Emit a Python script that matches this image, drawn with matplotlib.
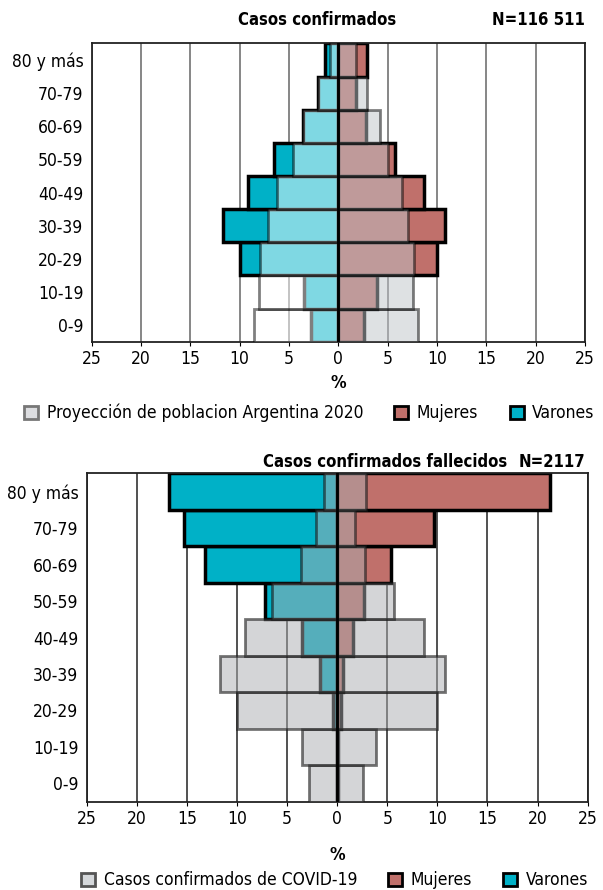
import matplotlib
matplotlib.use("Agg")
import numpy as np
import matplotlib.pyplot as plt
from matplotlib.patches import Patch

plt.rcParams["font.family"] = ["DejaVu Sans"]
plt.rcParams["font.stretch"] = "condensed"

ages = ["0-9", "10-19", "20-29", "30-39", "40-49", "50-59", "60-69", "70-79", "80 y más"]

# confirmed cases, % by sex
cases_var = [2.8, 3.5, 10.0, 11.7, 9.2, 6.5, 3.6, 2.1, 1.3]
cases_muj = [2.6, 3.9, 10.0, 10.8, 8.7, 5.7, 2.8, 1.8, 2.9]

# population projection Argentina 2020, % by sex
proj_var = [8.5, 8.0, 7.9, 7.1, 6.2, 4.6, 3.6, 2.1, 0.8]
proj_muj = [8.1, 7.6, 7.7, 7.1, 6.5, 5.0, 4.2, 2.9, 1.8]

# confirmed deaths, % by sex
deaths_var = [0.05, 0.05, 0.4, 1.7, 3.5, 7.2, 13.2, 15.3, 16.8]
deaths_muj = [0.05, 0.05, 0.35, 0.6, 1.6, 2.7, 5.4, 9.7, 21.2]

ticks = [-25, -20, -15, -10, -5, 0, 5, 10, 15, 20, 25]
tick_labels = [str(abs(t)) for t in ticks]

TEAL = "#00b1c7"
RED = "#c0706b"
FS = 12.5

fig = plt.figure(figsize=(6.03, 8.90), dpi=100)
ax1 = fig.add_axes([0.152, 0.616, 0.818, 0.3353])
ax2 = fig.add_axes([0.1438, 0.0992, 0.8308, 0.369])

y = np.arange(len(ages))


def style(ax, grid_color, pad):
    ax.set_xlim(-25, 25)
    ax.set_ylim(-0.5, len(ages) - 0.5)
    ax.set_xticks(ticks)
    ax.set_xticklabels(tick_labels, fontsize=FS)
    ax.set_yticks(y)
    ax.set_yticklabels(ages, fontsize=FS)
    ax.tick_params(axis="y", length=0, pad=6)
    ax.tick_params(axis="x", length=3, pad=3)
    ax.set_axisbelow(True)
    ax.grid(axis="x", color=grid_color, lw=1.1)
    for s in ax.spines.values():
        s.set_color("#222222")
        s.set_linewidth(1.3)
    ax.axvline(0, color="black", lw=2, zorder=6)
    ax.set_xlabel("%", fontsize=FS, fontweight="bold", labelpad=pad)


# top: cases vs population projection
ax1.barh(y, [-v for v in cases_var], height=1, color=TEAL, edgecolor="black", lw=2.5, zorder=2)
ax1.barh(y, cases_muj, height=1, color=RED, edgecolor="black", lw=2.5, zorder=2)
ax1.barh(y, [-v for v in proj_var], height=1, facecolor=(1, 1, 1, 0.5),
         edgecolor=(0, 0, 0, 0.5), lw=2, zorder=3)
ax1.barh(y, proj_muj, height=1, facecolor=(0.75, 0.77, 0.79, 0.5),
         edgecolor=(0, 0, 0, 0.5), lw=2, zorder=3)
style(ax1, "#666666", 4)

# bottom: deaths vs cases
ax2.barh(y, [-v for v in deaths_var], height=1, color=TEAL, edgecolor="black", lw=2.5, zorder=2)
ax2.barh(y, deaths_muj, height=1, color=RED, edgecolor="black", lw=2.5, zorder=2)
ax2.barh(y, [-v for v in cases_var], height=1, facecolor=(0.67, 0.68, 0.69, 0.5),
         edgecolor=(0.1, 0.1, 0.1, 0.6), lw=2, zorder=3)
ax2.barh(y, cases_muj, height=1, facecolor=(0.67, 0.68, 0.69, 0.5),
         edgecolor=(0.1, 0.1, 0.1, 0.6), lw=2, zorder=3)
style(ax2, "#222222", 13)

# titles
TFS = 12
fig.text(0.526, 0.977, "Casos confirmados", ha="center", va="center",
         fontsize=TFS, fontweight="bold")
fig.text(0.970, 0.977, "N=116 511", ha="right", va="center",
         fontsize=TFS, fontweight="bold")
fig.text(0.638, 0.481, "Casos confirmados fallecidos", ha="center", va="center",
         fontsize=TFS, fontweight="bold")
fig.text(0.970, 0.481, "N=2117", ha="right", va="center",
         fontsize=TFS, fontweight="bold")

# legends
h_top = [Patch(facecolor="#dcdde0", edgecolor="#777777", lw=2),
         Patch(facecolor=RED, edgecolor="black", lw=2),
         Patch(facecolor=TEAL, edgecolor="black", lw=2)]
fig.legend(h_top, ["Proyección de poblacion Argentina 2020", "Mujeres", "Varones"],
           loc="center", bbox_to_anchor=(0.513, 0.536), ncol=3, frameon=False,
           fontsize=FS, handlelength=0.8, handleheight=0.8, handletextpad=0.5,
           columnspacing=1.8)

h_bot = [Patch(facecolor="#d5d8db", edgecolor="#555555", lw=2),
         Patch(facecolor=RED, edgecolor="black", lw=2),
         Patch(facecolor=TEAL, edgecolor="black", lw=2)]
fig.legend(h_bot, ["Casos confirmados de COVID-19", "Mujeres", "Varones"],
           loc="center", bbox_to_anchor=(0.555, 0.011), ncol=3, frameon=False,
           fontsize=FS, handlelength=0.8, handleheight=0.8, handletextpad=0.5,
           columnspacing=1.8)

fig.savefig("out.png", dpi=100)
